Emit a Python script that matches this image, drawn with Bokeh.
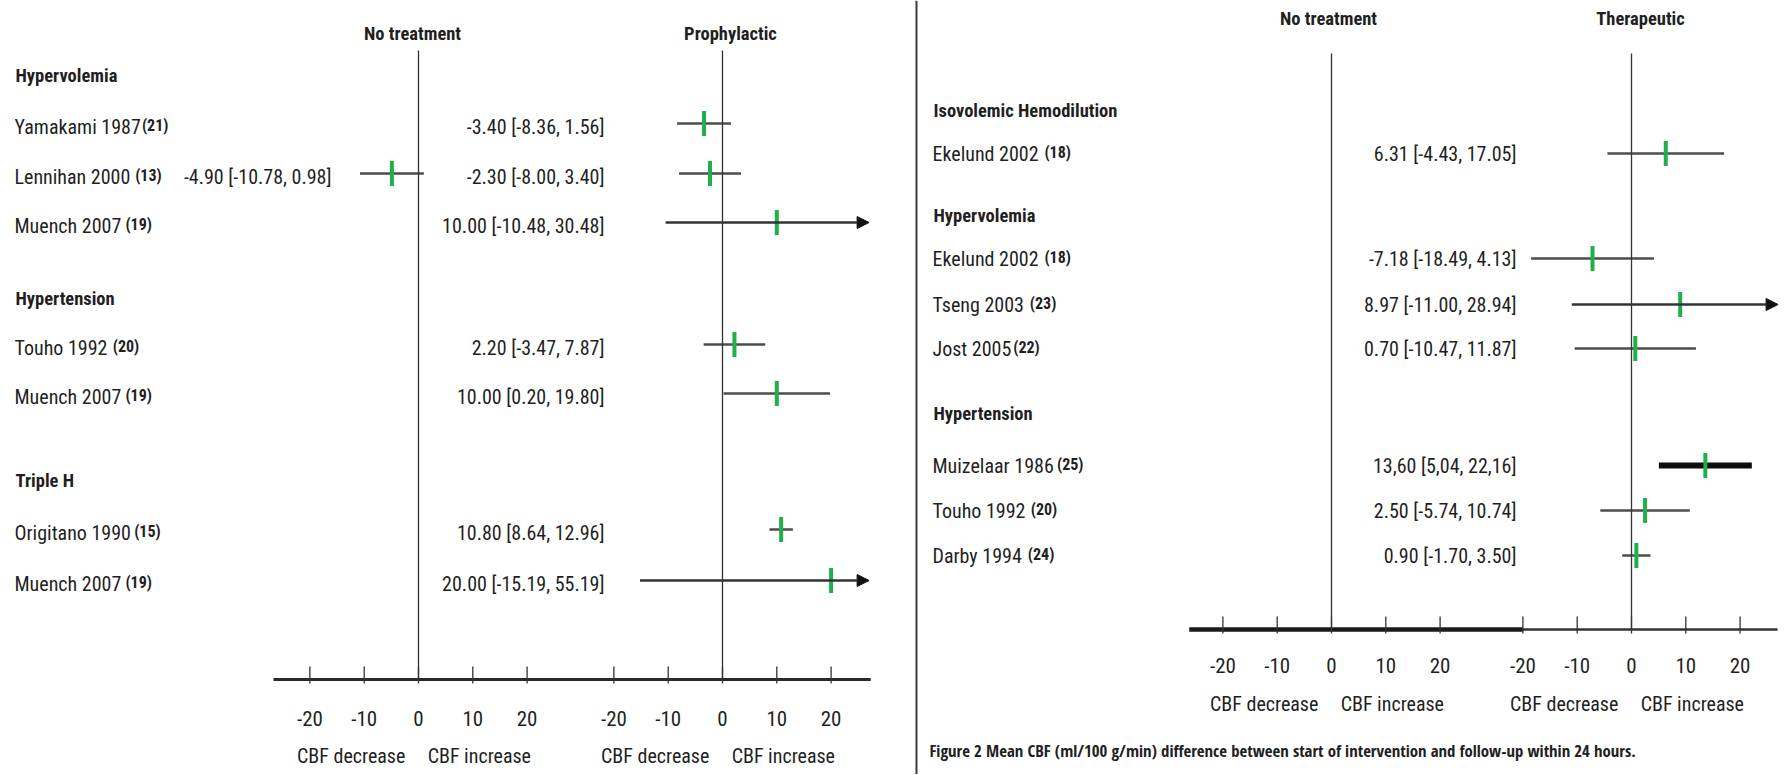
from bokeh.plotting import figure
from bokeh.models import Range1d, ColumnDataSource, Arrow, NormalHead
from bokeh.core.properties import value
from bokeh.embed import file_html
from bokeh.resources import INLINE

# ---------------- data: left panel (prophylactic) ----------------
left_groups = ["Hypervolemia", "Hypertension", "Triple H"]
left_names = ["Yamakami 1987", "Lennihan 2000", "Muench 2007", "Touho 1992",
              "Muench 2007", "Origitano 1990", "Muench 2007"]
left_refs = ["(21)", "(13)", "(19)", "(20)", "(19)", "(15)", "(19)"]
proph_mean = [-3.40, -2.30, 10.00, 2.20, 10.00, 10.80, 20.00]
proph_lo = [-8.36, -8.00, -10.48, -3.47, 0.20, 8.64, -15.19]
proph_hi = [1.56, 3.40, 30.48, 7.87, 19.80, 12.96, 55.19]
# no-treatment arm reported only for Lennihan 2000 (row index 1)
notx_rows = [1]
notx_mean = [-4.90]
notx_lo = [-10.78]
notx_hi = [0.98]

# ---------------- data: right panel (therapeutic) ----------------
right_groups = ["Isovolemic Hemodilution", "Hypervolemia", "Hypertension"]
right_names = ["Ekelund 2002", "Ekelund 2002", "Tseng 2003", "Jost 2005",
               "Muizelaar 1986", "Touho 1992", "Darby 1994"]
right_refs = ["(18)", "(18)", "(23)", "(22)", "(25)", "(20)", "(24)"]
ther_mean = [6.31, -7.18, 8.97, 0.70, 13.60, 2.50, 0.90]
ther_lo = [-4.43, -18.49, -11.00, -10.47, 5.04, -5.74, -1.70]
ther_hi = [17.05, 4.13, 28.94, 11.87, 22.16, 10.74, 3.50]
ther_decimal = [".", ".", ".", ".", ",", ".", "."]

tick_values = [-20, -10, 0, 10, 20]
axis_notes = ["CBF decrease", "CBF increase"]
left_titles = ["No treatment", "Prophylactic"]
right_titles = ["No treatment", "Therapeutic"]
caption = ("Figure 2 Mean CBF (ml/100 g/min) difference between start of "
           "intervention and follow-up within 24 hours.")

# ---------------- layout / style ----------------
W, H = 1784, 774
M = 0                 # the page template has no body margin
FONT = "Roboto Condensed"
CAP_FONT = "Open Sans Condensed"
FW = 0.875            # Roboto Condensed advance width relative to Arial
GREEN = "#1fb04b"
CI = "#4d4d4d"
TXT = "#1f1f1f"
K = 5.43              # pixels per CBF unit
CLIP = 27.0           # visible end of the scale (arrow beyond)
S_ROW = 20            # row label / value size
S_BOLD = 18.5         # headers / titles
S_REF = 16
S_TICK = 21

def fx(X):
    return X - M

def fy(Y):
    return Y - M

# Arial advance widths (1/1000 em)
AW = {' ': 278, '(': 333, ')': 333, '.': 278, ',': 278, '-': 333, '[': 278, ']': 278, '/': 278}
for c in "0123456789":
    AW[c] = 556
AW.update(dict(zip("ABCDEFGHIJKLMNOPQRSTUVWXYZ",
                   [667, 667, 722, 722, 667, 611, 778, 722, 278, 500, 667, 556, 833,
                    722, 778, 667, 778, 722, 667, 611, 722, 667, 944, 667, 667, 611])))
AW.update(dict(zip("abcdefghijklmnopqrstuvwxyz",
                   [556, 556, 500, 556, 556, 278, 556, 556, 222, 222, 500, 222, 833,
                    556, 556, 556, 556, 333, 500, 278, 556, 500, 722, 500, 500, 500])))

def text_w(s, size):
    return sum(AW.get(c, 556) for c in s) * FW * size / 1000.0

p = figure(width=W, height=H, x_range=Range1d(0, W), y_range=Range1d(H, 0),
           output_backend="svg", toolbar_location=None, min_border=0,
           x_axis_location=None, y_axis_location=None, outline_line_color=None)
p.grid.visible = False

zeros = {"l_notx": 418, "l_proph": 722, "r_notx": 1331, "r_ther": 1631}
p.extra_x_ranges = {name: Range1d(-fx(X0) / K, (W - fx(X0)) / K) for name, X0 in zeros.items()}

def txt(x, y, s, size, align="left", bold=False, rng="default", color=TXT, xo=0, font=FONT):
    p.text(x=x, y=y, text=s, x_range_name=rng, text_font=value(font),
           text_font_size=f"{size}px", text_align=align, text_baseline="middle",
           text_color=color, text_font_style="bold" if bold else "normal", x_offset=xo)

def ci_label(m, lo, hi, dec="."):
    return f"{m:.2f} [{lo:.2f}, {hi:.2f}]".replace(".", dec)

def forest(rng, ys, mean, lo, hi, heavy=()):
    seg = {"x0": [], "x1": [], "y": [], "w": [], "c": []}
    arr = {"x0": [], "x1": [], "y": []}
    for i, y in enumerate(ys):
        if hi[i] > CLIP:
            arr["x0"].append(lo[i]); arr["x1"].append(CLIP); arr["y"].append(y)
        else:
            seg["x0"].append(lo[i]); seg["x1"].append(hi[i]); seg["y"].append(y)
            seg["w"].append(6 if i in heavy else 2.5)
            seg["c"].append("#0d0d0d" if i in heavy else CI)
    if seg["y"]:
        p.segment(x0="x0", x1="x1", y0="y", y1="y", line_width="w", line_color="c",
                  source=ColumnDataSource(seg), x_range_name=rng)
    if arr["y"]:
        p.add_layout(Arrow(end=NormalHead(size=12, fill_color="#111111", line_color="#111111"),
                           x_start="x0", y_start="y", x_end="x1", y_end="y",
                           line_color="#333333", line_width=2.5,
                           source=ColumnDataSource(arr), x_range_name=rng))
    p.rect(x=mean, y=ys, width=4, height=25, width_units="screen", height_units="screen",
           fill_color=GREEN, line_color=None, x_range_name=rng)

def axis(rng_a, rng_b, y_axis, y_tick_lab, y_note, y_top, thick_a):
    for r in (rng_a, rng_b):
        p.segment(x0=[0], x1=[0], y0=[fy(y_top)], y1=[fy(y_axis)], x_range_name=r,
                  line_color="#333333", line_width=1.3)
    gap_units = (zeros[rng_b] - zeros[rng_a]) / K
    if thick_a:
        p.segment(x0=[-26.2], x1=[gap_units - 20], y0=[fy(y_axis)], y1=[fy(y_axis)],
                  x_range_name=rng_a, line_color="#1a1a1a", line_width=4.5)
        p.segment(x0=[-20], x1=[26.9], y0=[fy(y_axis)], y1=[fy(y_axis)], x_range_name=rng_b,
                  line_color="#333333", line_width=2.5)
    else:
        p.segment(x0=[-26.7], x1=[gap_units / 2 + 0.5], y0=[fy(y_axis)], y1=[fy(y_axis)],
                  x_range_name=rng_a, line_color="#2a2a2a", line_width=3)
        p.segment(x0=[-gap_units / 2], x1=[27.3], y0=[fy(y_axis)], y1=[fy(y_axis)],
                  x_range_name=rng_b, line_color="#2a2a2a", line_width=3)
    for r in (rng_a, rng_b):
        p.segment(x0=tick_values, x1=tick_values, y0=[fy(y_axis - 13)] * 5,
                  y1=[fy(y_axis + 4)] * 5, x_range_name=r, line_color="#333333", line_width=1.3)
        txt(tick_values, [fy(y_tick_lab)] * 5, [str(t) for t in tick_values], S_TICK,
            align="center", rng=r)
        txt([-12.4, 11.2], [fy(y_note)] * 2, axis_notes, S_ROW, align="center", rng=r)

# ---------------- left panel ----------------
left_head_y = [75, 298, 480]
left_row_y = [123, 173, 222, 344, 393, 529, 580]
LX = 14
txt([fx(LX + 1)] * 3, [fy(y) for y in left_head_y], left_groups, S_BOLD, bold=True)
txt([fx(LX)] * 7, [fy(y + 3) for y in left_row_y], left_names, S_ROW)
ref_x = [fx(LX) + text_w(n + ("" if i == 0 else " "), S_ROW) + (1 if i == 0 else 0)
         for i, n in enumerate(left_names)]
txt(ref_x, [fy(y + 2) for y in left_row_y], left_refs, S_REF, bold=True)
txt([fx(604)] * 7, [fy(y + 3) for y in left_row_y],
    [ci_label(m, a, b) for m, a, b in zip(proph_mean, proph_lo, proph_hi)], S_ROW, align="right")
txt([fx(331)], [fy(left_row_y[i] + 3) for i in notx_rows],
    [ci_label(m, a, b) for m, a, b in zip(notx_mean, notx_lo, notx_hi)], S_ROW, align="right")

forest("l_notx", [fy(left_row_y[i]) for i in notx_rows], notx_mean, notx_lo, notx_hi)
forest("l_proph", [fy(y) for y in left_row_y], proph_mean, proph_lo, proph_hi)
axis("l_notx", "l_proph", 679, 718, 755, 50, False)
txt([0], [fy(33)], [left_titles[0]], S_BOLD, align="center", bold=True, rng="l_notx", xo=-6)
txt([0], [fy(33)], [left_titles[1]], S_BOLD, align="center", bold=True, rng="l_proph", xo=8)

# ---------------- right panel ----------------
right_head_y = [110, 215, 413]
right_row_y = [153, 258, 304, 348, 465, 510, 555]
RX = 932
txt([fx(RX + 1)] * 3, [fy(y) for y in right_head_y], right_groups, S_BOLD, bold=True)
txt([fx(RX)] * 7, [fy(y) for y in right_row_y], right_names, S_ROW)
ref_x = [fx(RX) + text_w(n + " ", S_ROW) for n in right_names]
txt(ref_x, [fy(y - 1) for y in right_row_y], right_refs, S_REF, bold=True)
txt([fx(1516)] * 7, [fy(y) for y in right_row_y],
    [ci_label(m, a, b, d) for m, a, b, d in zip(ther_mean, ther_lo, ther_hi, ther_decimal)],
    S_ROW, align="right")
forest("r_ther", [fy(y) for y in right_row_y], ther_mean, ther_lo, ther_hi, heavy=(4,))
axis("r_notx", "r_ther", 629, 665, 703, 53, True)
txt([0], [fy(18)], [right_titles[0]], S_BOLD, align="center", bold=True, rng="r_notx", xo=-3)
txt([0], [fy(18)], [right_titles[1]], S_BOLD, align="center", bold=True, rng="r_ther", xo=9)

# caption (sized so that it spans the same width as in the figure) and divider
cap_size = round(681 / (sum(AW.get(c, 556) for c in caption) * 0.876 / 1000.0), 1)
txt([fx(929)], [fy(750)], [caption], cap_size, bold=True, font=CAP_FONT)
p.segment(x0=[fx(916)], x1=[fx(916)], y0=[0], y1=[H], line_color="#3a3a3a", line_width=2)

open("out.html", "w").write(file_html(p, INLINE))
